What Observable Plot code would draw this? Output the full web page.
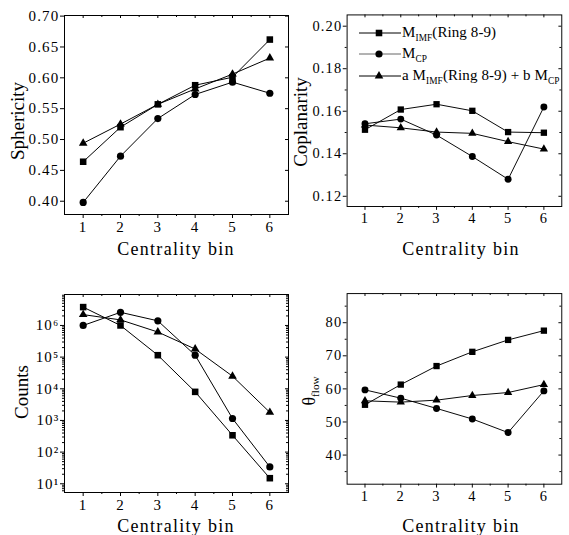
<!DOCTYPE html>
<html><head><meta charset="utf-8">
<script src="https://cdn.jsdelivr.net/npm/d3@7"></script>
<script src="https://cdn.jsdelivr.net/npm/@observablehq/plot@0.6"></script>
<style>
html,body{margin:0;padding:0;background:#fff;overflow:hidden}
#wrap{position:relative;width:569px;height:535px;overflow:hidden;font-family:'Liberation Serif',serif;color:#000}
.panel{position:absolute}
.lbl{position:absolute;white-space:nowrap;line-height:1;font-family:'Liberation Serif',serif;color:#000}
.lbl sub{font-size:0.62em;vertical-align:-0.38em;line-height:0}
</style></head>
<body><div id="wrap"></div>
<script>
// ---------- data ----------
const bins = [1, 2, 3, 4, 5, 6];
const seriesNames = ["M_IMF(Ring 8-9)", "M_CP", "a M_IMF(Ring 8-9) + b M_CP"];
const seriesSymbols = ["square", "circle", "triangle"];
const legendLabels = ["M<sub>IMF</sub>(Ring 8-9)", "M<sub>CP</sub>", "a M<sub>IMF</sub>(Ring 8-9) + b M<sub>CP</sub>"];

const sphericityIMF = [0.464, 0.520, 0.557, 0.588, 0.601, 0.662];
const sphericityCP  = [0.398, 0.473, 0.534, 0.573, 0.593, 0.575];
const sphericityMix = [0.494, 0.525, 0.557, 0.582, 0.606, 0.632];

const coplanarityIMF = [0.1513, 0.1608, 0.1633, 0.1602, 0.1502, 0.1499];
const coplanarityCP  = [0.1541, 0.1563, 0.1488, 0.1387, 0.1280, 0.1620];
const coplanarityMix = [0.1535, 0.1522, 0.1502, 0.1496, 0.1457, 0.1422];

const countsIMF = [3.8e6, 1.0e6, 1.15e5, 8.0e3, 340, 15];
const countsCP  = [1.0e6, 2.6e6, 1.4e6, 1.15e5, 1150, 34];
const countsMix = [2.2e6, 1.5e6, 6.2e5, 1.8e5, 2.5e4, 1.8e3];

const thetaIMF = [55.2, 61.3, 66.9, 71.2, 74.8, 77.6];
const thetaCP  = [59.7, 57.2, 54.1, 50.9, 46.8, 59.4];
const thetaMix = [56.4, 56.0, 56.6, 58.0, 58.9, 61.3];

const xLabel = "Centrality bin";
const sphTicks = [0.40, 0.45, 0.50, 0.55, 0.60, 0.65, 0.70];
const copTicks = [0.12, 0.14, 0.16, 0.18, 0.20];
const copMinor = [0.13, 0.15, 0.17, 0.19];
const cntTicks = [1e1, 1e2, 1e3, 1e4, 1e5, 1e6];
const thTicks = [40, 50, 60, 70, 80];
const thMinor = [35, 45, 55, 65, 75, 85];
const xMinor = [1.5, 2.5, 3.5, 4.5, 5.5];

// ---------- helpers ----------
const sup = {"0":"⁰","1":"¹","2":"²","3":"³","4":"⁴","5":"⁵","6":"⁶","7":"⁷","8":"⁸","9":"⁹"};
const logFmt = d => "10" + String(Math.round(Math.log10(d))).split("").map(c => sup[c]).join("");
function rowsFor(arrs) {
  return seriesNames.flatMap((s, k) => bins.map((b, i) => ({bin: b, series: s, value: arrs[k][i]})));
}
const symR = {square: 3.7, circle: 3.6, triangle: 3.2};

function makePanel(o) {
  const xDomain = [0.5, 6.5];
  const innerH = o.height - o.mT - o.mB;
  const innerW = o.width - o.mL - o.mR;
  const rows = rowsFor(o.arrays);
  const yMin = o.yMinor || [];
  const marks = [
    Plot.frame({stroke: "black", strokeWidth: 1}),
    Plot.axisX({ticks: bins, tickSize: 4, tickPadding: 3, label: null, tickFormat: d => String(d), fontSize: 15}),
    Plot.axisY({ticks: o.yTicks, tickSize: 4, tickPadding: 1, label: null, tickFormat: o.yFormat, fontSize: 15}),
    Plot.tickX(xMinor, {x: d => d, insetTop: innerH, insetBottom: -2, stroke: "black"}),
    Plot.tickX(bins, {x: d => d, insetBottom: innerH - 3, stroke: "black"}),
    Plot.tickX(xMinor, {x: d => d, insetBottom: innerH - 2, stroke: "black"}),
    Plot.tickY(o.yTicks, {y: d => d, insetLeft: innerW - 3, stroke: "black"}),
    Plot.tickY(yMin, {y: d => d, insetLeft: innerW - 2, stroke: "black"}),
    Plot.tickY(yMin, {y: d => d, insetRight: innerW, insetLeft: -2, stroke: "black"}),
    Plot.line(rows, {x: "bin", y: "value", z: "series", stroke: "black", strokeWidth: 1})
  ];
  seriesNames.forEach((s, k) => {
    marks.push(Plot.dot(rows.filter(r => r.series === s), {
      x: "bin", y: "value", symbol: seriesSymbols[k], fill: "black", stroke: "none", r: symR[seriesSymbols[k]]
    }));
  });
  const svg = Plot.plot({
    width: o.width, height: o.height,
    marginLeft: o.mL, marginRight: o.mR, marginTop: o.mT, marginBottom: o.mB,
    x: {domain: xDomain},
    y: {domain: o.yDomain, type: o.yType || "linear"},
    style: {fontFamily: "'Liberation Serif', serif", fontSize: "15px", color: "black", background: "transparent", overflow: "visible"},
    marks
  });
  svg.style.letterSpacing = "1.2px";
  const div = document.createElement("div");
  div.className = "panel";
  div.style.left = o.left + "px";
  div.style.top = o.top + "px";
  div.appendChild(svg);
  return div;
}

const wrap = document.getElementById("wrap");

wrap.appendChild(makePanel({
  left: 0, top: 0, width: 300, height: 270, mL: 64, mR: 12, mT: 15, mB: 56,
  arrays: [sphericityIMF, sphericityCP, sphericityMix],
  yDomain: [0.3785, 0.701], yTicks: sphTicks, yFormat: d3.format(".2f")
}));
wrap.appendChild(makePanel({
  left: 285, top: 0, width: 295, height: 270, mL: 64, mR: 8, mT: 15, mB: 56,
  arrays: [coplanarityIMF, coplanarityCP, coplanarityMix],
  yDomain: [0.1152, 0.2053], yTicks: copTicks, yMinor: copMinor, yFormat: d3.format(".2f")
}));
const logMinor = [];
for (let e = 0; e <= 6; e++) for (let m = 2; m <= 9; m++) { const v = m * Math.pow(10, e); if (v > 5.3 && v < 9.5e6) logMinor.push(v); }
wrap.appendChild(makePanel({
  left: 0, top: 270, width: 300, height: 265, mL: 64, mR: 12, mT: 24, mB: 43,
  arrays: [countsIMF, countsCP, countsMix],
  yDomain: [5.3, 9.5e6], yType: "log", yTicks: cntTicks, yMinor: logMinor, yFormat: logFmt
}));
wrap.appendChild(makePanel({
  left: 285, top: 270, width: 295, height: 265, mL: 64, mR: 8, mT: 24, mB: 43,
  arrays: [thetaIMF, thetaCP, thetaMix],
  yDomain: [31.2, 88.8], yTicks: thTicks, yMinor: thMinor, yFormat: d => String(d)
}));

// ---------- axis titles ----------
function addLabel(html, cx, cy, size, rotate, spacing) {
  const d = document.createElement("div");
  d.className = "lbl";
  d.innerHTML = html;
  d.style.fontSize = size + "px";
  d.style.left = cx + "px";
  d.style.top = cy + "px";
  if (spacing) d.style.letterSpacing = spacing + "px";
  d.style.transform = "translate(-50%,-50%)" + (rotate ? " rotate(-90deg)" : "");
  wrap.appendChild(d);
}
addLabel(xLabel, 176, 249, 18, false, 1.3);
addLabel(xLabel, 461, 249, 18, false, 1.3);
addLabel(xLabel, 176, 526, 18, false, 1.3);
addLabel(xLabel, 461, 526, 18, false, 1.3);
addLabel("Sphericity", 17, 121, 19, true);
addLabel("Coplanarity", 300, 122, 19, true);
addLabel("Counts", 21, 392, 19, true);
addLabel("θ<sub>flow</sub>", 309, 391, 18, true);

// ---------- legend (panel 2) ----------
const legendY = [33, 54, 76];
seriesNames.forEach((s, k) => {
  const ns = "http://www.w3.org/2000/svg";
  const svg = document.createElementNS(ns, "svg");
  svg.setAttribute("width", 46); svg.setAttribute("height", 16);
  svg.style.position = "absolute";
  svg.style.left = "357px";
  svg.style.top = (legendY[k] - 8) + "px";
  const line = document.createElementNS(ns, "line");
  line.setAttribute("x1", 2); line.setAttribute("x2", 44);
  line.setAttribute("y1", 8); line.setAttribute("y2", 8);
  line.setAttribute("stroke", k === 1 ? "#666" : "black");
  svg.appendChild(line);
  const symType = {square: d3.symbolSquare, circle: d3.symbolCircle, triangle: d3.symbolTriangle}[seriesSymbols[k]];
  const r = symR[seriesSymbols[k]];
  const p = document.createElementNS(ns, "path");
  p.setAttribute("d", d3.symbol(symType, Math.PI * r * r)());
  p.setAttribute("transform", "translate(22,8)");
  p.setAttribute("fill", "black");
  svg.appendChild(p);
  wrap.appendChild(svg);
  const t = document.createElement("div");
  t.className = "lbl";
  t.innerHTML = legendLabels[k];
  t.style.fontSize = "15px";
  t.style.letterSpacing = "0.1px";
  t.style.left = "402px";
  t.style.top = (legendY[k] - 8) + "px";
  wrap.appendChild(t);
});
</script></body></html>
